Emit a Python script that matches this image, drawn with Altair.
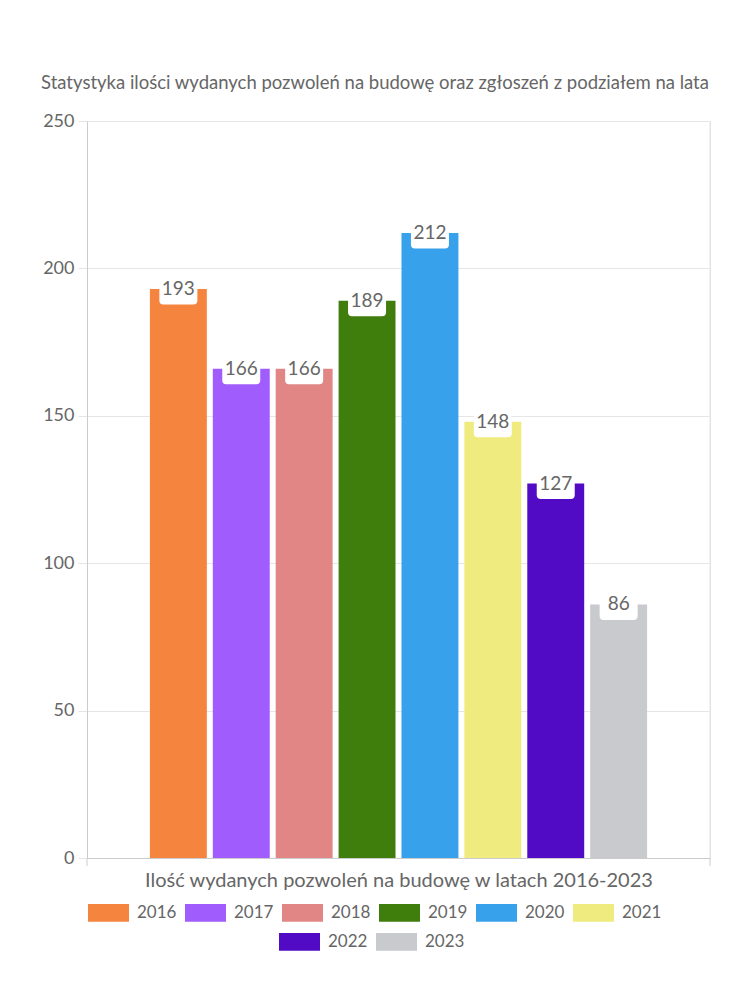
import altair as alt
import pandas as pd

# ---- data ----
years = ["2016", "2017", "2018", "2019", "2020", "2021", "2022", "2023"]
values = [193, 166, 166, 189, 212, 148, 127, 86]
colors = ["#F5843F", "#A15CFD", "#E18585", "#3F7D0C", "#37A2EB", "#F0EB7E", "#520BC5", "#C9CACE"]
y_ticks = [0, 50, 100, 150, 200, 250]

chart_title = "Statystyka ilości wydanych pozwoleń na budowę oraz zgłoszeń z podziałem na lata"
x_title = "Ilość wydanych pozwoleń na budowę w latach 2016-2023"

df = pd.DataFrame({"rok": years, "wartosc": values})
df_a = df.iloc[:6].reset_index(drop=True)
df_b = df.iloc[6:].reset_index(drop=True)
one = pd.DataFrame({"k": [0]})

W, H = 623, 737
FONT = "Lato"
GRAY = "#666666"

BOX = ("M-0.79,-0.605H0.79Q1,-0.605 1,-0.395V0.395Q1,0.605 0.79,0.605"
       "H-0.79Q-1,0.605 -1,0.395V-0.395Q-1,-0.605 -0.79,-0.605Z")
LEG_SYM = "M-1,-0.43H1V0.43H-1Z"

x_enc = alt.X(
    "rok:N",
    scale=alt.Scale(domain=years, paddingInner=0.095, paddingOuter=1),
    axis=alt.Axis(labels=False, ticks=False, title=x_title, domainColor="#cccccc",
                  titleFontSize=20, titleColor=GRAY, titleFontWeight="normal",
                  titleFont=FONT, titlePadding=12),
)
y_enc = alt.Y(
    "wartosc:Q",
    scale=alt.Scale(domain=[0, 250], nice=False),
    axis=alt.Axis(values=y_ticks, title=None, grid=True, gridColor="#e6e6e6",
                  domain=True, domainColor="#cccccc", tickColor="#e6e6e6", tickSize=9,
                  labelFontSize=18, labelColor=GRAY, labelFont=FONT, labelPadding=4),
)


def legend(x, y, cols):
    return alt.Legend(title=None, orient="none", legendX=x, legendY=y, direction="horizontal",
                      columns=cols, symbolType=LEG_SYM, symbolSize=1681, symbolStrokeWidth=0,
                      labelOffset=8, columnPadding=8, labelFontSize=17, labelColor=GRAY,
                      labelFont=FONT)


bars_a = alt.Chart(df_a).mark_bar().encode(
    x=x_enc, y=y_enc,
    color=alt.Color("rok:N", scale=alt.Scale(domain=years[:6], range=colors[:6]),
                    legend=legend(1, 771, 6)),
)
bars_b = alt.Chart(df_b).mark_bar().encode(
    x=x_enc, y=y_enc,
    fill=alt.Fill("rok:N", scale=alt.Scale(domain=years[6:], range=colors[6:]),
                  legend=legend(192, 800, 2)),
)
boxes = alt.Chart(df).mark_point(shape=BOX, filled=True, size=1444, opacity=1,
                                 color="white", strokeWidth=0, yOffset=4).encode(x=x_enc, y=y_enc)
labels = alt.Chart(df).mark_text(font=FONT, fontSize=19, color=GRAY, baseline="middle").encode(
    x=x_enc, y=y_enc, text="wartosc:Q")

right_line = alt.Chart(one).mark_rule(color="#e6e6e6").encode(
    x=alt.value(W), y=alt.value(0), y2=alt.value(H))
tick_l = alt.Chart(one).mark_rule(color="#cccccc").encode(
    x=alt.value(0), y=alt.value(H), y2=alt.value(H + 8))
tick_r = alt.Chart(one).mark_rule(color="#cccccc").encode(
    x=alt.value(W), y=alt.value(H), y2=alt.value(H + 8))

chart = alt.layer(right_line, bars_a, bars_b, boxes, labels, tick_l, tick_r).properties(
    width=W, height=H,
    padding={"left": 87, "top": 121, "right": 40, "bottom": 142},
    autosize=alt.AutoSizeParams(type="none"),
    title=alt.Title(chart_title, fontSize=18.5, font=FONT, color=GRAY, fontWeight="normal",
                    anchor="middle", dx=-23.5, offset=20),
).configure_view(stroke=None).configure(background="white")

chart.save("out.html", embed_options={"renderer": "svg", "actions": False})
